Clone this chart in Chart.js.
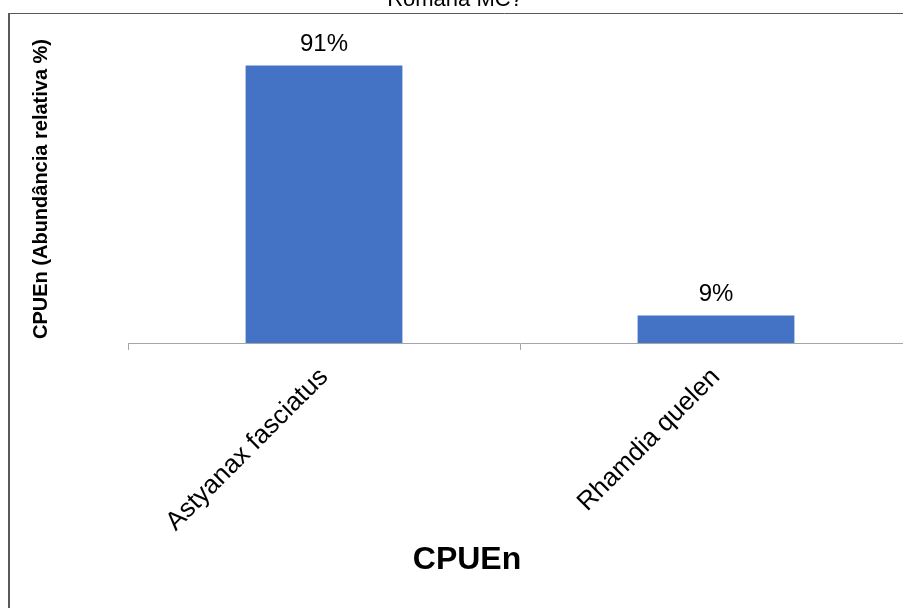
<!DOCTYPE html>
<html>
<head>
<meta charset="utf-8">
<script src="https://cdn.jsdelivr.net/npm/chart.js@4.4.1/dist/chart.umd.min.js"></script>
<style>
  html, body { margin: 0; padding: 0; background: #fff; }
  #frame { position: relative; width: 903px; height: 608px; overflow: hidden; }
  #cpueChart { position: absolute; left: 0; top: -20px; }
</style>
</head>
<body>
<div id="frame"><canvas id="cpueChart" width="1000" height="660"></canvas></div>
<script>
const chartTitle = "Romana MC?";
const species = ["Astyanax fasciatus", "Rhamdia quelen"];
const abundance = [91, 9];
const yAxisTitle = "CPUEn (Abundância relativa %)";
const xAxisTitle = "CPUEn";

const FONT = "'Liberation Sans', Arial, sans-serif";

// frame, value labels and the two free-floating titles
const decor = {
    id: "decor",
    beforeDraw(chart) {
        const ctx = chart.ctx;
        ctx.save();
        ctx.strokeStyle = "#595959";
        ctx.lineWidth = 1;
        ctx.beginPath();
        ctx.moveTo(9, 1000);
        ctx.lineTo(9, 33.5);
        ctx.lineTo(1000, 33.5);
        ctx.stroke();
        ctx.lineWidth = 2;
        ctx.beginPath();
        ctx.moveTo(9, 33);
        ctx.lineTo(9, 1000);
        ctx.stroke();
        ctx.restore();
    },
    afterDatasetsDraw(chart) {
        const ctx = chart.ctx;
        ctx.save();
        ctx.fillStyle = "#000";
        ctx.font = "24px " + FONT;
        ctx.textAlign = "center";
        ctx.textBaseline = "middle";
        chart.getDatasetMeta(0).data.forEach((bar, i) => {
            ctx.fillText(abundance[i] + "%", bar.x, bar.y - 21);
        });
        ctx.restore();
    },
    afterDraw(chart) {
        const ctx = chart.ctx;
        ctx.save();
        ctx.fillStyle = "#000";
        ctx.textAlign = "center";
        ctx.textBaseline = "middle";
        ctx.font = "22px " + FONT;
        ctx.fillText(chartTitle, 455, 20);
        ctx.font = "bold 32px " + FONT;
        ctx.fillText(xAxisTitle, 467, 580);
        ctx.restore();
    }
};

new Chart(document.getElementById("cpueChart"), {
    type: "bar",
    data: {
        labels: species,
        datasets: [{
            data: abundance,
            backgroundColor: "#4472c4",
            categoryPercentage: 1,
            barPercentage: 0.4
        }]
    },
    options: {
        responsive: false,
        animation: false,
        layout: { padding: { top: 55, right: 88, left: 0, bottom: 0 } },
        scales: {
            x: {
                grid: { display: true, drawOnChartArea: false, offset: true, tickLength: 7, color: "#a6a6a6" },
                border: { color: "#a6a6a6", width: 1 },
                ticks: {
                    color: "#000",
                    font: { family: FONT, size: 26 },
                    minRotation: 45,
                    maxRotation: 45,
                    padding: 12
                },
                afterFit: s => { s.height = 297; }
            },
            y: {
                min: 0,
                max: 101,
                grid: { display: false },
                border: { display: false },
                ticks: { display: false },
                title: {
                    display: true,
                    text: yAxisTitle,
                    color: "#000",
                    font: { family: FONT, size: 20, weight: "bold" },
                    padding: { top: 29, bottom: 0 }
                },
                afterFit: s => { s.width = 128; }
            }
        },
        plugins: {
            legend: { display: false },
            tooltip: { enabled: false },
            title: { display: false }
        }
    },
    plugins: [decor]
});
</script>
</body>
</html>
